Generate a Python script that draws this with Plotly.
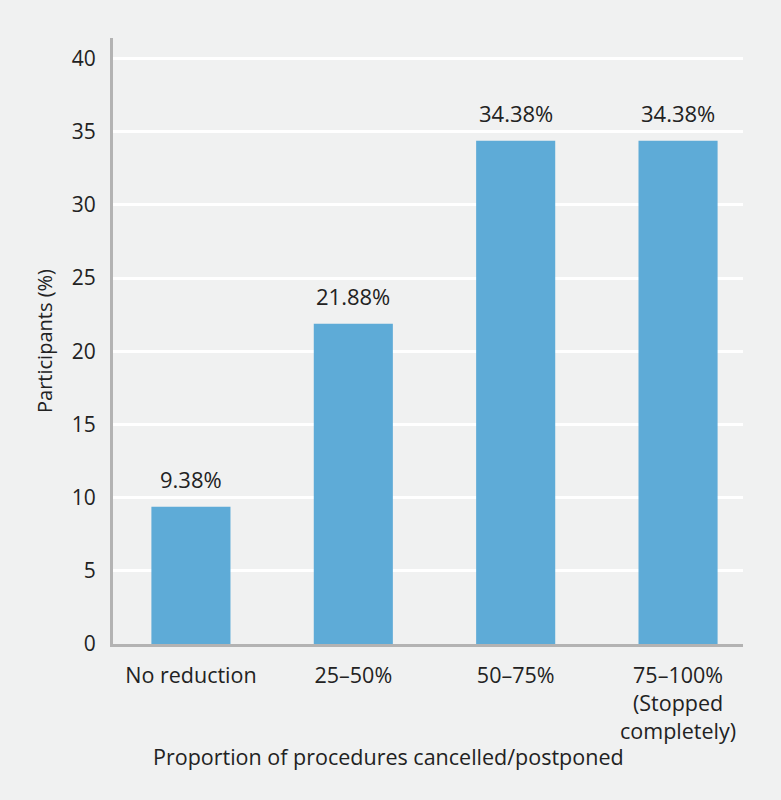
import plotly.graph_objects as go

categories = ["No reduction", "25–50%", "50–75%", "75–100%<br>(Stopped<br>completely)"]
values = [9.38, 21.88, 34.38, 34.38]
labels = ["9.38%", "21.88%", "34.38%", "34.38%"]
y_ticks = [0, 5, 10, 15, 20, 25, 30, 35, 40]

bg = "#f0f1f1"
font_family = "Open Sans, Noto Sans, sans-serif"
txt = "#222222"

fig = go.Figure(go.Bar(
    x=categories, y=values,
    marker=dict(color="#5eabd7", line=dict(width=0)),
    width=0.487, hoverinfo="x+y",
))

annotations = [
    dict(x=c, y=v, text=t, xref="x", yref="y", showarrow=False,
         xanchor="center", yanchor="bottom", yshift=11,
         font=dict(size=22, color=txt, family=font_family))
    for c, v, t in zip(categories, values, labels)
]
annotations.append(dict(
    text="Proportion of procedures cancelled/postponed",
    xref="paper", yref="paper", x=0.437, y=-0.185,
    xanchor="center", yanchor="middle", showarrow=False,
    font=dict(size=21.5, color=txt, family=font_family),
))

fig.update_layout(
    width=781, height=800,
    paper_bgcolor=bg, plot_bgcolor=bg,
    margin=dict(l=113, r=38, t=38, b=156),
    font=dict(family=font_family, size=21, color=txt),
    showlegend=False,
    annotations=annotations,
)
fig.update_xaxes(
    type="category", range=[-0.48, 3.4],
    showline=True, linecolor="#b3b3b3", linewidth=3,
    showgrid=False, ticks="", tickfont=dict(size=21.5),
    ticklabelstandoff=10,
)
fig.update_yaxes(
    range=[0, 41.4], tickvals=y_ticks,
    showline=True, linecolor="#b3b3b3", linewidth=3,
    showgrid=True, gridcolor="#ffffff", gridwidth=3,
    zeroline=False, ticks="", ticklabelstandoff=10,
    tickfont=dict(size=21),
    title=dict(text="Participants (%)", font=dict(size=20), standoff=14),
)

fig.write_html("out.html", config={"displayModeBar": False},
               post_script="document.body.style.margin='0';")
